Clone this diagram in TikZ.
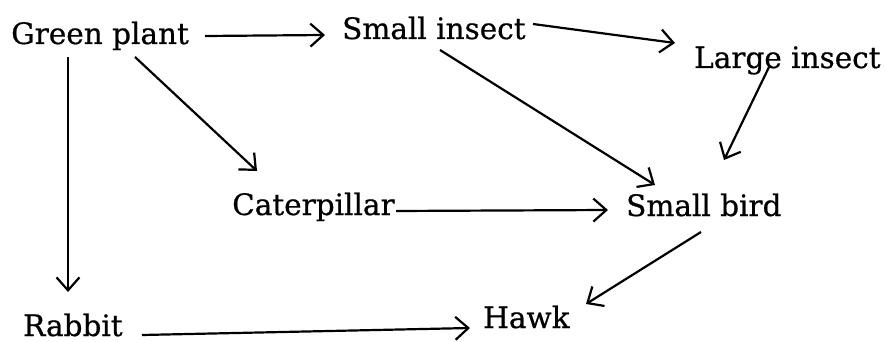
\documentclass[tikz,border=0pt]{standalone}
\usepackage{fontspec}
\setmainfont{DejaVu Serif}[FakeBold=0.6]
\usetikzlibrary{arrows.meta}
\begin{document}
\begin{tikzpicture}[x=1pt,y=-1pt,
  lbl/.style={anchor=base west,inner sep=0pt,font=\fontsize{29.5}{34}\selectfont},
  arr/.style={line width=2.2pt,-{Straight Barb[length=13pt,width=23pt,line width=2.2pt]}}]
\useasboundingbox[fill=white] (0,0) rectangle (886,342);
\node[lbl] (gp) at (11,44) {Green plant};
\node[lbl] (si) at (342,39) {Small insect};
\node[lbl] (li) at (694,68) {Large insect};
\node[lbl] (cat) at (232,215) {Caterpillar};
\node[lbl] (sb) at (626,216) {Small bird};
\node[lbl] (rab) at (23,336) {Rabbit};
\node[lbl] (hawk) at (483,328) {Hawk};
\draw[arr] ([shift={(194,-8)}]gp.base west) -- ([shift={(-17,-4)}]si.base west);
\draw[arr] ([shift={(191,-15)}]si.base west) -- ([shift={(-19,-25)}]li.base west);
\draw[arr] ([shift={(98,11)}]si.base west) -- ([shift={(29,-31)}]sb.base west);
\draw[arr] ([shift={(76,-3)}]li.base west) -- ([shift={(98,-56)}]sb.base west);
\draw[arr] ([shift={(124,13)}]gp.base west) -- ([shift={(25,-44)}]cat.base west);
\draw[arr] ([shift={(57,13)}]gp.base west) -- ([shift={(45,-44)}]rab.base west);
\draw[arr] ([shift={(164,-4)}]cat.base west) -- ([shift={(-18,-6)}]sb.base west);
\draw[arr] ([shift={(119,-1)}]rab.base west) -- ([shift={(-13,0)}]hawk.base west);
\draw[arr] ([shift={(75,16)}]sb.base west) -- ([shift={(103,-24)}]hawk.base west);
\end{tikzpicture}
\end{document}
